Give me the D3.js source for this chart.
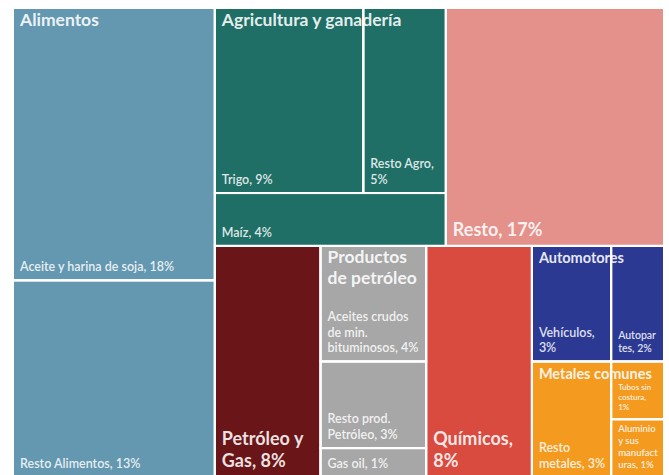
<!DOCTYPE html>
<html>
<head>
<meta charset="utf-8">
<script src="https://cdn.jsdelivr.net/npm/d3@7"></script>
<style>
  html, body { margin: 0; padding: 0; background: #fff; }
  svg { display: block; font-family: Lato, "Open Sans", sans-serif; }
</style>
</head>
<body>
<svg id="chart" width="669" height="475"></svg>
<script>
// Export sectors (top level), in display order
const sectorNames = ["Alimentos", "Agricultura y ganadería", "Resto", "Petróleo y Gas",
  "Productos de petróleo", "Químicos", "Automotores", "Metales comunes"];
const sectorColors = ["#6498B0", "#1F6F66", "#E5918B", "#6A1517",
  "#A7A7A7", "#D94A3F", "#2B3993", "#F49A1F"];

// Sectors shown as a single block carry their own share (%)
const singleSectors = ["Resto", "Petróleo y Gas", "Químicos"];
const singleShares = [17, 8, 8];

// Products inside the remaining sectors, share of total exports (%)
const productNames = ["Aceite y harina de soja", "Resto Alimentos",
  "Trigo", "Resto Agro", "Maíz",
  "Aceites crudos de min. bituminosos", "Resto prod. Petróleo", "Gas oil",
  "Vehículos", "Autopartes",
  "Resto metales", "Tubos sin costura", "Aluminio y sus manufacturas"];
const productSector = ["Alimentos", "Alimentos",
  "Agricultura y ganadería", "Agricultura y ganadería", "Agricultura y ganadería",
  "Productos de petróleo", "Productos de petróleo", "Productos de petróleo",
  "Automotores", "Automotores",
  "Metales comunes", "Metales comunes", "Metales comunes"];
const productShares = [18, 13, 9, 5, 4, 4, 3, 1, 3, 2, 3, 1, 1];

// ---- build the hierarchy ----
const rootData = {
  name: "Exportaciones",
  children: sectorNames.map((name, i) => {
    const s = singleSectors.indexOf(name);
    if (s >= 0) return { name, sector: i, value: singleShares[s] };
    return {
      name, sector: i,
      children: productNames
        .map((p, j) => ({ name: p, sector: i, value: productShares[j], grp: productSector[j] }))
        .filter(d => d.grp === name)
    };
  })
};

const plotLeft = 14, plotTop = 9, plotRight = 663, plotBottom = 476;

// Strip tiling: children are laid out in strips along the shorter side of the
// remaining rectangle; most strips hold one child, some hold several.
const stripCounts = new Map([
  ["Exportaciones", [1, 2, 1, 1, 1, 1, 1]],
  ["Agricultura y ganadería", [2, 1]]
]);
function stripTile(node, x0, y0, x1, y1) {
  const kids = node.children;
  const counts = stripCounts.get(node.data.name) || kids.map(() => 1);
  let remaining = node.value, i = 0;
  for (const c of counts) {
    const row = kids.slice(i, i + c);
    const sum = d3.sum(row, d => d.value);
    const strip = { children: row, value: sum };
    const dx = x1 - x0, dy = y1 - y0;
    if (dx < dy) {
      const yb = y0 + dy * sum / remaining;
      d3.treemapDice(strip, x0, y0, x1, yb);
      y0 = yb;
    } else {
      const xb = x0 + dx * sum / remaining;
      d3.treemapSlice(strip, x0, y0, xb, y1);
      x0 = xb;
    }
    remaining -= sum;
    i += c;
  }
}

const root = d3.hierarchy(rootData).sum(d => d.children ? 0 : d.value);
d3.treemap()
  .tile(stripTile)
  .size([plotRight - plotLeft, plotBottom - plotTop])
  .paddingInner(2)
  .round(false)(root);

const svg = d3.select("#chart");
const g = svg.append("g").attr("transform", `translate(${plotLeft},${plotTop})`);

const leaves = root.leaves();
const sectors = root.children;

// ---- coloured cells ----
g.selectAll("rect.cell")
  .data(leaves)
  .join("rect")
  .attr("class", "cell")
  .attr("x", d => d.x0).attr("y", d => d.y0)
  .attr("width", d => d.x1 - d.x0).attr("height", d => d.y1 - d.y0)
  .attr("fill", d => sectorColors[d.data.sector]);

// ---- text helpers ----
const measurer = svg.append("text").attr("visibility", "hidden");
function textWidth(str, size, weight) {
  measurer.attr("font-size", size).attr("font-weight", weight).text(str);
  return measurer.node().getComputedTextLength();
}
// Greedy word wrap; when allowed, words longer than the line are split by character
function wrap(str, maxW, size, weight, allowBreak) {
  const words = str.split(" ");
  const lines = [];
  let cur = "";
  for (let w of words) {
    const trial = cur ? cur + " " + w : w;
    if (textWidth(trial, size, weight) <= maxW) { cur = trial; continue; }
    if (cur) { lines.push(cur); cur = ""; }
    if (textWidth(w, size, weight) > maxW && !allowBreak) return null;
    while (textWidth(w, size, weight) > maxW && w.length > 1) {
      let k = w.length - 1;
      while (k > 1 && textWidth(w.slice(0, k), size, weight) > maxW) k--;
      lines.push(w.slice(0, k));
      w = w.slice(k);
    }
    cur = w;
  }
  if (cur) lines.push(cur);
  return lines;
}

function drawLines(lines, x, yFirst, lh, size, weight, opacity) {
  const t = g.append("text")
    .attr("font-size", size).attr("font-weight", weight)
    .attr("fill", "#fff").attr("fill-opacity", opacity);
  lines.forEach((ln, i) => {
    t.append("tspan").attr("x", x).attr("y", yFirst + i * lh).text(ln);
  });
}

// ---- sector header sizes ----
function headerSize(s) {
  const a = (s.x1 - s.x0) * (s.y1 - s.y0);
  return Math.max(14.5, Math.min(17.5, Math.sqrt(a) / 8.5));
}
const headerLines = new Map();
sectors.filter(s => s.children).forEach(s => {
  const size = headerSize(s);
  const lines = wrap(s.data.name, s.x1 - s.x0 - 5, size, 700, true);
  headerLines.set(s, { size, lines, lh: size * 1.17 });
});

// ---- leaf labels (bottom-left of each cell) ----
leaves.forEach(d => {
  const w = d.x1 - d.x0, h = d.y1 - d.y0;
  const label = `${d.data.name}, ${d.data.value}%`;
  const pad = 6;
  if (d.depth === 1) {
    const size = 18, lh = 22;
    const lines = wrap(label, w - 2 * pad, size, 700, true);
    const yLast = d.y1 - 9;
    drawLines(lines, d.x0 + pad, yLast - (lines.length - 1) * lh, lh, size, 700, 0.88);
    return;
  }
  // room taken by the sector header when the cell sits at the top of its sector
  const hdr = headerLines.get(d.parent);
  const reserve = (Math.abs(d.y0 - d.parent.y0) < 0.5 && hdr) ? 8 + hdr.lines.length * hdr.lh : 4;
  let chosen = null;
  for (let size = 12.5; size >= 5; size -= 0.5) {
    const lh = size * 1.25;
    const lines = wrap(label, w - 2 * pad + 2, size, 600, size <= 10.5);
    if (!lines) continue;
    if (lines.length * lh + reserve <= h) { chosen = { size, lh, lines }; break; }
  }
  if (!chosen) return;
  const yLast = d.y1 - 8;
  drawLines(chosen.lines, d.x0 + pad, yLast - (chosen.lines.length - 1) * chosen.lh,
    chosen.lh, chosen.size, 600, 0.86);
});

// ---- sector headers (top-left of sectors with products) ----
headerLines.forEach((hd, s) => {
  drawLines(hd.lines, s.x0 + 6, s.y0 + 16.5, hd.lh, hd.size, 700, 0.9);
});

// ---- white separators drawn over the headers ----
g.selectAll("rect.sep")
  .data(leaves)
  .join("rect")
  .attr("class", "sep")
  .attr("x", d => d.x0 - 1).attr("y", d => d.y0 - 1)
  .attr("width", d => d.x1 - d.x0 + 2).attr("height", d => d.y1 - d.y0 + 2)
  .attr("fill", "none").attr("stroke", "#fff").attr("stroke-width", 2);

measurer.remove();
</script>
</body>
</html>
